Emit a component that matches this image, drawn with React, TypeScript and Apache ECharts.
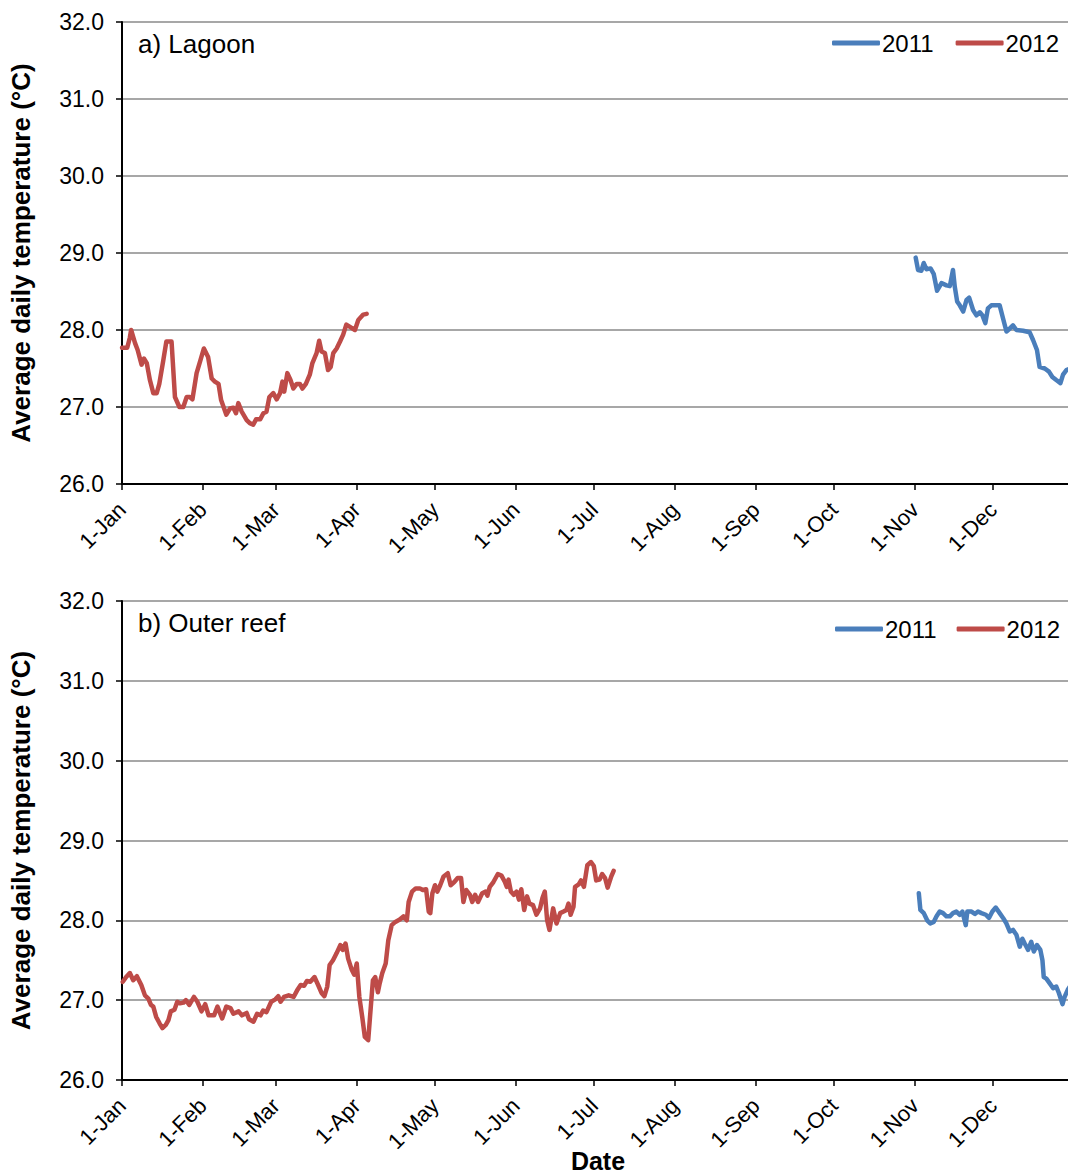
import React, { useEffect, useRef } from "react";
import * as echarts from "echarts";

const monthDays = [0, 31, 59, 90, 120, 151, 181, 212, 243, 273, 304, 334];
const monthLabels = ["1-Jan", "1-Feb", "1-Mar", "1-Apr", "1-May", "1-Jun", "1-Jul", "1-Aug", "1-Sep", "1-Oct", "1-Nov", "1-Dec"];
const yTicks = [26, 27, 28, 29, 30, 31, 32];
const seriesNames = ["2011", "2012"];
const panelTitles = ["a) Lagoon", "b) Outer reef"];
const xTitle = "Date";

// [day of year, temperature °C]
const lagoon2012 = [
  [0, 27.77], [1, 27.77], [2, 27.77], [3, 27.9], [3.5, 28.0], [5, 27.83], [6, 27.74], [7.5, 27.55], [8.4, 27.63],
  [9.5, 27.57], [10.7, 27.35], [12, 27.18], [13.3, 27.18], [14.3, 27.3], [15.8, 27.6], [17, 27.85], [19, 27.85],
  [20.3, 27.13], [22, 27.0], [23.5, 27.0], [24.8, 27.13], [26, 27.13], [27, 27.1], [28.6, 27.44], [30, 27.6],
  [31.4, 27.76], [33, 27.65], [34.4, 27.37], [35.6, 27.33], [37, 27.3], [38, 27.09], [40, 26.9], [41.4, 26.98],
  [42.7, 26.99], [43.7, 26.92], [44.6, 27.05], [45.9, 26.94], [47.8, 26.83], [49, 26.79], [50.3, 26.77],
  [51.4, 26.84], [53, 26.84], [54.2, 26.92], [55.4, 26.94], [56.5, 27.13], [58, 27.18], [59.3, 27.1],
  [60.6, 27.18], [61.5, 27.33], [62.2, 27.2], [63.4, 27.44], [64.6, 27.35], [65.7, 27.24], [67, 27.3],
  [68.2, 27.3], [69.2, 27.24], [70.5, 27.3], [72, 27.42], [73, 27.57], [74.6, 27.7], [75.6, 27.86], [76.5, 27.72],
  [77.8, 27.7], [79, 27.48], [80, 27.52], [81, 27.7], [82.3, 27.76], [83.6, 27.85], [84.8, 27.94], [86, 28.07],
  [87.4, 28.04], [89.3, 28.0], [90.6, 28.13], [92.5, 28.2], [93.8, 28.21],
];

const lagoon2011 = [
  [304.3, 28.94], [305.2, 28.78], [306.5, 28.77], [307.4, 28.87], [308.4, 28.79], [310, 28.8], [311.2, 28.73],
  [312.5, 28.51], [314.2, 28.61], [316.1, 28.58], [317.4, 28.57], [318.6, 28.78], [319.3, 28.56], [320.2, 28.37],
  [321.2, 28.32], [322.5, 28.24], [323.8, 28.39], [324.8, 28.42], [326.3, 28.26], [327.6, 28.19], [328.9, 28.23],
  [329.9, 28.19], [331, 28.09], [332, 28.28], [333.3, 28.32], [335.3, 28.32], [336.5, 28.32], [337.8, 28.15],
  [339.1, 27.98], [340.4, 28.02], [341.6, 28.06], [342.9, 28.0], [345.5, 27.99], [348, 27.97], [349.3, 27.87],
  [350.8, 27.74], [351.8, 27.52], [353.8, 27.5], [355.4, 27.46], [356.7, 27.39], [358.2, 27.35], [359.8, 27.31],
  [360.8, 27.42], [362.1, 27.48], [363.5, 27.5],
];

const reef2012 = [
  [0.3, 27.23], [1.6, 27.29], [3, 27.34], [4.3, 27.25], [5.7, 27.3], [7.4, 27.19], [8.8, 27.06], [10.1, 27.02],
  [11.1, 26.94], [12, 26.92], [13.1, 26.79], [14.4, 26.71], [15.5, 26.65], [16.8, 26.69], [17.8, 26.75],
  [18.7, 26.86], [20.1, 26.88], [21.2, 26.98], [22.2, 26.96], [23.6, 26.97], [24.5, 27.0], [25.8, 26.94],
  [27.6, 27.04], [28.9, 26.98], [30.5, 26.86], [31.9, 26.95], [33.2, 26.81], [35.3, 26.81], [36.6, 26.92],
  [38.4, 26.77], [40, 26.92], [41.6, 26.9], [42.7, 26.83], [44.7, 26.86], [46, 26.81], [47.8, 26.84],
  [48.7, 26.76], [50.4, 26.73], [51.8, 26.83], [53.1, 26.81], [54.1, 26.87], [55.4, 26.85], [57.2, 26.98],
  [58.8, 27.01], [59.9, 27.05], [60.8, 26.98], [62.1, 27.04], [63.9, 27.06], [65.8, 27.04], [67.1, 27.12],
  [68.5, 27.19], [69.8, 27.18], [70.9, 27.24], [72.2, 27.23], [73.8, 27.29], [75.2, 27.19], [76.5, 27.09],
  [77.6, 27.05], [78.7, 27.17], [79.6, 27.44], [80.9, 27.5], [82.3, 27.59], [83.7, 27.69], [84.6, 27.63],
  [85.7, 27.71], [86.7, 27.52], [88.1, 27.38], [89, 27.32], [90, 27.46], [91, 27.04], [92.1, 26.79],
  [93.1, 26.54], [94.4, 26.5], [95.4, 26.92], [96.2, 27.25], [97.1, 27.29], [98.1, 27.1], [98.8, 27.21],
  [99.8, 27.34], [101.1, 27.46], [102.1, 27.75], [103.4, 27.94], [104.8, 27.98], [106.5, 28.01], [107.9, 28.05],
  [109.2, 28.0], [109.9, 28.23], [111.2, 28.36], [112.6, 28.4], [114.2, 28.4], [115.3, 28.38], [116.6, 28.39],
  [117.6, 28.11], [118.2, 28.09], [119, 28.34], [120, 28.44], [120.9, 28.36], [122, 28.44], [123.3, 28.55],
  [124.9, 28.59], [126, 28.44], [127.4, 28.48], [128.7, 28.53], [130, 28.53], [130.9, 28.23], [132, 28.38],
  [133.4, 28.32], [134.3, 28.23], [135.4, 28.32], [136.5, 28.23], [138.1, 28.34], [139.4, 28.36], [140.1, 28.31],
  [141, 28.42], [142.4, 28.48], [144.1, 28.58], [145.5, 28.56], [146.8, 28.48], [147.5, 28.42], [148.2, 28.51],
  [149.1, 28.36], [150.2, 28.32], [151.3, 28.36], [152.2, 28.26], [153.1, 28.39], [154.2, 28.13], [155.3, 28.3],
  [156.2, 28.21], [157.6, 28.19], [158.9, 28.07], [160.3, 28.15], [161.2, 28.28], [162.1, 28.36], [163, 28.0],
  [163.9, 27.88], [165.3, 28.15], [166.6, 27.96], [168, 28.09], [169.3, 28.11], [170.4, 28.13], [171.2, 28.21],
  [172, 28.07], [173.1, 28.17], [173.7, 28.42], [175.1, 28.45], [176, 28.5], [177.1, 28.42], [178.4, 28.69],
  [179.8, 28.73], [180.9, 28.68], [181.8, 28.5], [183.1, 28.51], [184.1, 28.58], [185.2, 28.53], [186.2, 28.41],
  [187.6, 28.55], [188.5, 28.62],
];

const reef2011 = [
  [305.5, 28.34], [306.1, 28.13], [307.4, 28.09], [308.7, 28.0], [309.9, 27.96], [311.2, 27.98], [312.3, 28.05],
  [313.5, 28.11], [314.8, 28.09], [316.1, 28.05], [317.4, 28.05], [318.6, 28.09], [319.9, 28.11], [321.2, 28.07],
  [322.2, 28.11], [323.5, 27.94], [324.1, 28.11], [325.7, 28.11], [327, 28.08], [328.2, 28.11], [329.5, 28.09],
  [331.2, 28.07], [332.4, 28.03], [333.7, 28.11], [335, 28.16], [336.3, 28.1], [337.8, 28.03], [339.1, 27.96],
  [340.4, 27.86], [341.6, 27.88], [342.9, 27.82], [344.2, 27.67], [345.2, 27.77], [346.1, 27.71], [347.4, 27.63],
  [348.6, 27.73], [349.6, 27.61], [350.8, 27.69], [352.1, 27.63], [352.9, 27.5], [353.4, 27.29], [354.4, 27.27],
  [355.7, 27.21], [357, 27.15], [358.2, 27.17], [359.2, 27.09], [360.6, 26.95], [361.4, 27.04], [362.6, 27.13],
  [364, 27.2],
];

const FONT = "'Liberation Sans', Arial, sans-serif";
const BLUE = "#4a7ebb";
const RED = "#be4b48";

function xAxisFor(gridIndex: number) {
  return {
    type: "value",
    gridIndex,
    min: 0,
    max: 365,
    axisLine: { show: true, onZero: false, lineStyle: { color: "#000", width: 2 } },
    axisTick: { show: true, length: 6, customValues: monthDays, lineStyle: { color: "#000", width: 1.5 } },
    axisLabel: {
      customValues: monthDays,
      rotate: 45,
      margin: 22,
      fontSize: 22,
      fontFamily: FONT,
      color: "#000",
      formatter: (v: number) => {
        const i = monthDays.indexOf(Math.round(v));
        return i >= 0 ? monthLabels[i] : "";
      },
    },
    splitLine: { show: false },
  };
}

function yAxisFor(gridIndex: number) {
  return {
    type: "value",
    gridIndex,
    min: yTicks[0],
    max: yTicks[yTicks.length - 1],
    interval: 1,
    axisLine: { show: true, lineStyle: { color: "#000", width: 2 } },
    axisTick: { show: true, length: 6, lineStyle: { color: "#000", width: 1.5 } },
    axisLabel: {
      fontSize: 23,
      margin: 18,
      fontFamily: FONT,
      color: "#000",
      formatter: (v: number) => v.toFixed(1),
    },
    splitLine: { show: true, lineStyle: { color: "#8a8a8a", width: 1.5 } },
    name: "Average daily temperature (°C)",
    nameLocation: "middle",
    nameRotate: 90,
    nameGap: 88,
    nameMoveOverlap: false,
    nameTextStyle: { fontSize: 26, fontWeight: "bold", fontFamily: FONT, color: "#000" },
  };
}

function lineSeries(name: string, data: number[][], idx: number, color: string) {
  return {
    type: "line",
    name,
    data,
    xAxisIndex: idx,
    yAxisIndex: idx,
    showSymbol: false,
    symbol: "none",
    color,
    lineStyle: { width: 4.5, color, join: "round", cap: "round" },
  };
}

function legendFor(left: number, top: number, gap: number) {
  return {
    left,
    top,
    data: seriesNames,
    icon: "roundRect",
    itemWidth: 48,
    itemHeight: 5,
    itemGap: gap,
    selectedMode: false,
    textStyle: { fontSize: 24, fontFamily: FONT, color: "#000", padding: [0, 0, 0, -3] },
  };
}

export default function App() {
  const ref = useRef<HTMLDivElement>(null);
  useEffect(() => {
    if (!ref.current) return;
    const chart = echarts.init(ref.current, undefined, { renderer: "svg" });
    chart.setOption({
      animation: false,
      backgroundColor: "#fff",
      textStyle: { fontFamily: FONT },
      grid: [
        { left: 122, top: 22, width: 952, height: 462, containLabel: false, outerBoundsMode: "none" },
        { left: 122, top: 601, width: 952, height: 479, containLabel: false, outerBoundsMode: "none" },
      ],
      xAxis: [xAxisFor(0), xAxisFor(1)],
      yAxis: [yAxisFor(0), yAxisFor(1)],
      legend: [legendFor(827, 26, 22), legendFor(830, 612, 20)],
      graphic: [
        {
          type: "text",
          left: 138,
          top: 31,
          style: { text: panelTitles[0], fontSize: 26, fontFamily: FONT, fill: "#000" },
        },
        {
          type: "text",
          left: 138,
          top: 610,
          style: { text: panelTitles[1], fontSize: 26, fontFamily: FONT, fill: "#000" },
        },
        {
          type: "text",
          x: 598,
          y: 1161,
          style: {
            text: xTitle,
            fontSize: 25,
            fontWeight: "bold",
            fontFamily: FONT,
            fill: "#000",
            align: "center",
            verticalAlign: "middle",
          },
        },
      ],
      series: [
        lineSeries(seriesNames[0], lagoon2011, 0, BLUE),
        lineSeries(seriesNames[1], lagoon2012, 0, RED),
        lineSeries(seriesNames[0], reef2011, 1, BLUE),
        lineSeries(seriesNames[1], reef2012, 1, RED),
      ],
    });
    return () => chart.dispose();
  }, []);
  return (
    <div
      style={{ position: "absolute", left: 0, top: 0, width: 1068, height: 1174, overflow: "hidden", background: "#fff" }}
    >
      <div ref={ref} style={{ width: 1084, height: 1174 }} />
    </div>
  );
}
